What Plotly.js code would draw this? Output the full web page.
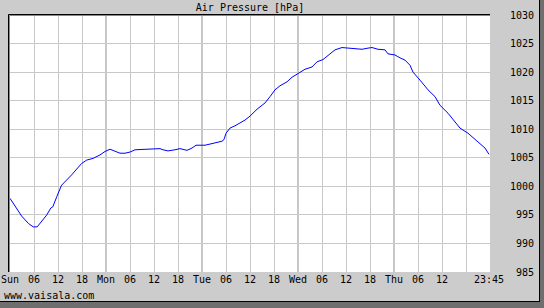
<!DOCTYPE html>
<html>
<head>
<meta charset="utf-8">
<script src="https://cdn.plot.ly/plotly-3.0.1.min.js"></script>
<style>html,body{margin:0;padding:0;background:#cccccc;}#chart{width:544px;height:308px;}</style>
</head>
<body>
<div id="chart"></div>
<script>
// Hours since Sunday 00:00
const hours = [0,1.5,2.9,4.6,5.8,6.8,7.9,9.2,10.2,10.7,11.7,12.9,15.4,17.9,19.2,20.8,22.5,23.75,25,26.25,27.5,28.75,30,31.25,33.75,37.5,38.25,39.5,41.25,42.5,44.25,45.5,46.5,48.75,50,51.25,53,53.5,54,55,56.25,58.75,60,61.75,63.75,65,66.25,67.5,69.25,70.5,72,73.75,75.5,76.75,78.25,79.75,81.25,83,85,86.25,88,89.5,90.5,92,93.75,94.5,96.25,97.5,98.75,100,100.75,102.5,104.5,106.25,107.5,109.5,111.25,112.5,114.5,115.75,117.5,118.75,119.75];
const pressure = [997.9,996.4,994.8,993.5,992.9,992.9,993.8,995.0,996.2,996.4,998.2,1000.2,1002.0,1004.0,1004.6,1004.9,1005.5,1006.1,1006.5,1006.2,1005.8,1005.8,1006.0,1006.4,1006.5,1006.6,1006.4,1006.2,1006.4,1006.6,1006.3,1006.7,1007.2,1007.2,1007.4,1007.6,1007.9,1008.2,1009.3,1010.2,1010.6,1011.6,1012.3,1013.5,1014.6,1015.7,1016.9,1017.6,1018.3,1019.1,1019.8,1020.5,1020.9,1021.8,1022.2,1023.0,1023.9,1024.3,1024.2,1024.1,1024.0,1024.2,1024.3,1024.0,1023.9,1023.2,1023.0,1022.5,1022.1,1021.2,1020.0,1018.6,1016.9,1015.7,1014.2,1012.8,1011.3,1010.2,1009.3,1008.5,1007.5,1006.7,1005.6];

const xTickHours = [0,6,12,18,24,30,36,42,48,54,60,66,72,78,84,90,96,102,108,119.75];
const xTickLabels = ['Sun','06','12','18','Mon','06','12','18','Tue','06','12','18','Wed','06','12','18','Thu','06','12','23:45'];
const dayHours = [24,48,72,96];
const yTickVals = [985,990,995,1000,1005,1010,1015,1020,1025,1030];
const yTickLabels = ['\u00a0985','\u00a0990','\u00a0995','1000','1005','1010','1015','1020','1025','1030'];

const W = 544, H = 308, L = 10, R = 54, T = 15, B = 36;
const pw = W - L - R, ph = H - T - B;
const px = p => (p - L) / pw;
const py = p => (H - B - p) / ph;

const font = {family: 'DejaVu Sans Mono, monospace', size: 10, color: '#000'};

const shapes = dayHours.map(h => ({
  type: 'line', xref: 'x', yref: 'paper', x0: h, x1: h, y0: 0, y1: 1,
  line: {color: '#8c8c8c', width: 1}, layer: 'below'
}));
// inset frame (top & left), dark
shapes.push({type:'line', xref:'paper', yref:'paper', x0: px(8.5), x1: px(490), y0: py(14.5), y1: py(14.5), line:{color:'#000', width:1}, layer:'above'});
shapes.push({type:'line', xref:'paper', yref:'paper', x0: px(8.5), x1: px(8.5), y0: py(14.5), y1: py(272), line:{color:'#000', width:1}, layer:'above'});
shapes.push({type:'line', xref:'paper', yref:'paper', x0: px(9.5), x1: px(9.5), y0: py(15.5), y1: py(272), line:{color:'#888', width:1}, layer:'above'});
shapes.push({type:'line', xref:'paper', yref:'paper', x0: px(9.5), x1: px(490), y0: py(15.5), y1: py(15.5), line:{color:'#888', width:1}, layer:'above'});
// outer shadow border (bottom & right)
shapes.push({type:'rect', xref:'paper', yref:'paper', x0: px(0), x1: px(544), y0: py(302), y1: py(308), fillcolor:'#6e6e6e', line:{width:0}, layer:'above'});
shapes.push({type:'rect', xref:'paper', yref:'paper', x0: px(540), x1: px(544), y0: py(0), y1: py(308), fillcolor:'#6e6e6e', line:{width:0}, layer:'above'});
shapes.push({type:'line', xref:'paper', yref:'paper', x0: px(0), x1: px(540), y0: py(301.5), y1: py(301.5), line:{color:'#000', width:1}, layer:'above'});
shapes.push({type:'line', xref:'paper', yref:'paper', x0: px(539.5), x1: px(539.5), y0: py(0), y1: py(302), line:{color:'#000', width:1}, layer:'above'});

const data = [{
  x: hours, y: pressure, type: 'scatter', mode: 'lines',
  line: {color: '#0000ff', width: 1}, hoverinfo: 'skip'
}];

const layout = {
  width: W, height: H,
  margin: {l: L, r: R, t: T, b: B, pad: 0},
  paper_bgcolor: '#cccccc', plot_bgcolor: '#ffffff',
  font: font,
  showlegend: false,
  title: {text: 'Air Pressure [hPa]', font: font, x: 0.5, xref: 'paper', xanchor: 'center', y: 1 - 7/H, yref: 'container', yanchor: 'middle'},
  xaxis: {
    range: [0, 120], tickmode: 'array', tickvals: xTickHours, ticktext: xTickLabels,
    showgrid: false, zeroline: false, showline: false, ticks: '', tickfont: font,
    minor: {tick0: 0, dtick: 6, showgrid: true, gridcolor: '#c8c8c8', gridwidth: 1, ticks: ''},
    fixedrange: true
  },
  yaxis: {
    range: [985, 1030], side: 'right', tickmode: 'array', tickvals: yTickVals, ticktext: yTickLabels,
    showgrid: true, gridcolor: '#c8c8c8', gridwidth: 1, zeroline: false, showline: false, ticks: '',
    tickfont: font, ticklabelstandoff: 19, fixedrange: true
  },
  shapes: shapes,
  annotations: [{
    text: 'www.vaisala.com', xref: 'paper', yref: 'paper', x: px(2), y: py(295),
    xanchor: 'left', yanchor: 'middle', showarrow: false, font: font
  }]
};

Plotly.newPlot('chart', data, layout, {staticPlot: true, displayModeBar: false});
</script>
</body>
</html>
